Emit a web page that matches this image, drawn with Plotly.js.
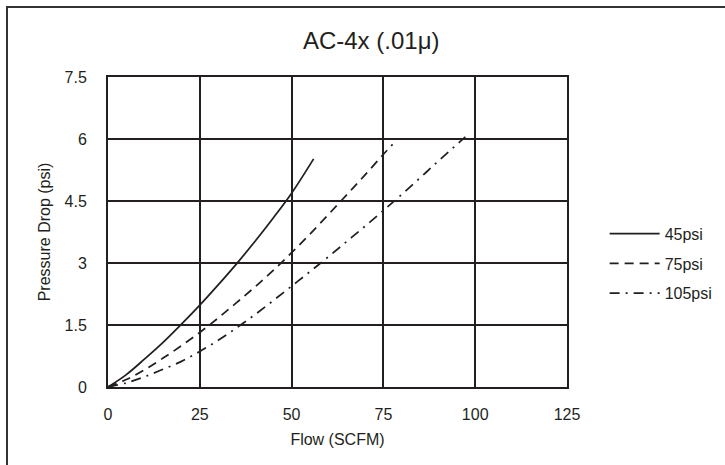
<!DOCTYPE html>
<html>
<head>
<meta charset="utf-8">
<script src="https://cdn.plot.ly/plotly-3.0.1.min.js"></script>
<style>
  html, body { margin: 0; padding: 0; background: #fff; }
  #wrap { position: relative; width: 725px; height: 465px; overflow: hidden; }
  #frame { position: absolute; left: 6px; top: 6px; width: 760px; height: 500px;
           border-left: 2px solid #333; border-top: 2px solid #333; }
  #chart { position: absolute; left: 0; top: 0; width: 725px; height: 465px; }
</style>
</head>
<body>
<div id="wrap">
  <div id="frame"></div>
  <div id="chart"></div>
</div>
<script>
// Flow (SCFM) and pressure drop (psi)
const flow45  = [0, 5, 10, 15, 20, 25, 30, 35, 40, 45, 50, 56];
const drop45  = [0, 0.3, 0.68, 1.08, 1.52, 1.98, 2.47, 2.98, 3.52, 4.09, 4.69, 5.52];

const flow75  = [0, 5, 10, 15, 20, 25, 30, 35, 40, 45, 50, 55, 60, 65, 70, 75, 77.5];
const drop75  = [0, 0.18, 0.42, 0.7, 1.0, 1.32, 1.67, 2.04, 2.42, 2.82, 3.25, 3.7, 4.17, 4.65, 5.13, 5.63, 5.87];

const flow105 = [0, 5, 10, 15, 20, 25, 30, 35, 40, 45, 50, 55, 60, 65, 70, 75, 80, 85, 90, 97.3];
const drop105 = [0, 0.1, 0.25, 0.43, 0.62, 0.86, 1.13, 1.43, 1.75, 2.09, 2.44, 2.79, 3.15, 3.52, 3.89, 4.27, 4.66, 5.06, 5.47, 6.05];

const seriesNames = ['45psi', '75psi', '105psi'];
const xTicks = [0, 25, 50, 75, 100, 125];
const yTicks = [0, 1.5, 3, 4.5, 6, 7.5];
const yTickText = ['0', '1.5', '3', '4.5', '6', '7.5'];

const ink = '#231f20';
const font = 'Arial, "Liberation Sans", sans-serif';

const traces = [
  {x: flow45, y: drop45, name: seriesNames[0], legendgroup: 'a',
   line: {color: ink, width: 1.75, dash: 'solid', shape: 'spline', smoothing: 1}},
  {x: flow75, y: drop75, name: seriesNames[1], legendgroup: 'b',
   line: {color: ink, width: 1.75, dash: '9px,6px', shape: 'spline', smoothing: 1}},
  {x: flow105, y: drop105, name: seriesNames[2], legendgroup: 'c',
   line: {color: ink, width: 1.75, dash: '10px,6px,2px,6px', shape: 'spline', smoothing: 1}}
].map(t => Object.assign({type: 'scatter', mode: 'lines', hoverinfo: 'skip'}, t));

const layout = {
  width: 725, height: 465,
  margin: {l: 108, r: 158, t: 77, b: 78, pad: 0, autoexpand: false},
  paper_bgcolor: 'rgba(0,0,0,0)',
  plot_bgcolor: '#fff',
  font: {family: font, size: 16, color: '#231f20'},
  title: {text: 'AC-4x (.01μ)', font: {family: font, size: 24, color: '#231f20'},
          xref: 'container', x: 0.512, xanchor: 'center',
          yref: 'container', y: 0.913, yanchor: 'middle'},
  xaxis: {range: [0, 125], tickvals: xTicks, ticktext: xTicks.map(String),
          showgrid: true, gridcolor: ink, gridwidth: 2,
          showline: true, linecolor: ink, linewidth: 2, mirror: true,
          zeroline: false, ticks: '', ticklabelstandoff: 12,
          tickfont: {size: 16},
          title: {text: 'Flow (SCFM)', font: {size: 16}, standoff: 12},
          fixedrange: true},
  yaxis: {range: [0, 7.5], tickvals: yTicks, ticktext: yTickText,
          showgrid: true, gridcolor: ink, gridwidth: 2,
          showline: true, linecolor: ink, linewidth: 2, mirror: true,
          zeroline: false, ticks: '', ticklabelstandoff: 16,
          tickfont: {size: 16},
          title: {text: 'Pressure Drop (psi)', font: {size: 16}, standoff: 10},
          fixedrange: true},
  showlegend: true,
  legend: {x: 1.082, xanchor: 'left', y: 0.398, yanchor: 'middle',
           traceorder: 'grouped', tracegroupgap: 6, itemwidth: 50,
           font: {size: 16, color: '#231f20'}, bgcolor: 'rgba(0,0,0,0)',
           borderwidth: 0}
};

Plotly.newPlot('chart', traces, layout, {staticPlot: true, displayModeBar: false});
</script>
</body>
</html>
